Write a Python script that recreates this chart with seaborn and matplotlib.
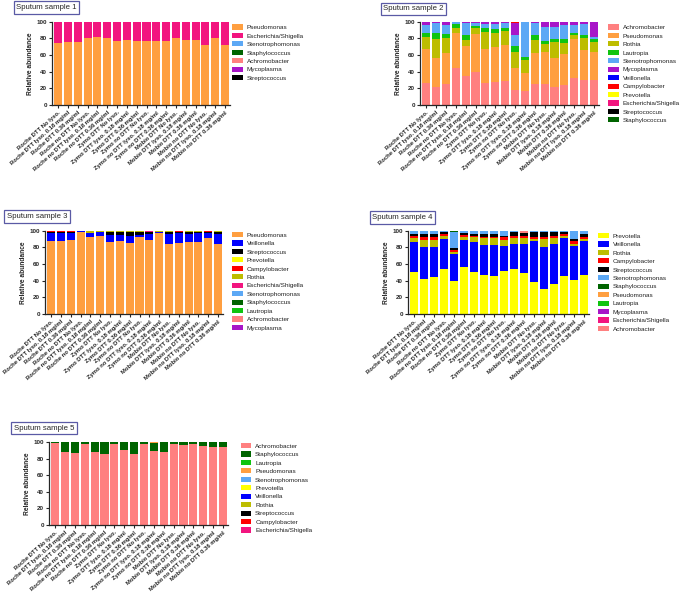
import numpy as np
import matplotlib
matplotlib.use('Agg')
import matplotlib.pyplot as plt
from matplotlib.patches import Patch
import seaborn as sns

sns.set_style('ticks')
plt.rcParams['font.family'] = ['Liberation Sans', 'DejaVu Sans']

# x 라벨 (18 conditions)
conditions = ['Roche DTT No lyso.', 'Roche DTT lyso. 0.18 mg/ml', 'Roche DTT 0.36 mg/ml',
              'Roche no DTT No lyso.', 'Roche no DTT lyso. 0.18 mg/ml', 'Roche no DTT 0.36 mg/ml',
              'Zymo DTT No lyso.', 'Zymo DTT lyso. 0.18 mg/ml', 'Zymo DTT 0.36 mg/ml',
              'Zymo no DTT No lyso.', 'Zymo no DTT lyso. 0.18 mg/ml', 'Zymo no DTT 0.36 mg/ml',
              'Mobio DTT No lyso.', 'Mobio DTT lyso. 0.18 mg/ml', 'Mobio DTT 0.36 mg/ml',
              'Mobio no DTT No lyso.', 'Mobio no DTT lyso. 0.18 mg/ml', 'Mobio no DTT 0.36 mg/ml']

colors = {
    'Pseudomonas': '#FF9F40',
    'Escherichia/Shigella': '#F2157F',
    'Stenotrophomonas': '#5CA8F5',
    'Staphylococcus': '#006400',
    'Achromobacter': '#FF8080',
    'Mycoplasma': '#A815C8',
    'Streptococcus': '#000000',
    'Rothia': '#BDBD00',
    'Lautropia': '#10C410',
    'Veillonella': '#0000FF',
    'Campylobacter': '#FF0000',
    'Prevotella': '#FFFF00',
}
Z = [0] * 18

# Sputum sample 1
s1_pseudomonas = [75, 76, 76, 81, 82, 80, 77, 78, 77, 77, 77, 77, 80, 78, 78, 72, 81, 72]
s1_escherichia = [25, 24, 24, 19, 18, 20, 23, 22, 23, 23, 23, 23, 20, 22, 22, 28, 19, 28]

# Sputum sample 2
s2_achromobacter = [27, 22, 25, 44, 35, 40, 27, 28, 29, 18, 17, 25, 25, 22, 24, 32, 30, 30]
s2_pseudomonas = [40, 35, 37, 42, 36, 45, 40, 42, 43, 26, 21, 38, 39, 34, 37, 47, 36, 34]
s2_rothia = [15, 22, 19, 7, 7, 7, 21, 17, 17, 20, 16, 15, 9, 20, 14, 5, 14, 12]
s2_lautropia = [5, 8, 4, 4, 6, 3, 4, 4, 3, 7, 4, 6, 4, 3, 4, 3, 4, 3]
s2_stenotrophomonas = [9, 11, 11, 3, 15, 4, 5, 6, 6, 13, 42, 14, 17, 15, 17, 9, 13, 3]
s2_mycoplasma = [4, 2, 4, 0, 1, 1, 3, 3, 2, 14, 0, 2, 6, 6, 4, 4, 3, 18]
s2_campylobacter = [0, 0, 0, 0, 0, 0, 0, 0, 0, 2, 0, 0, 0, 0, 0, 0, 0, 0]

# Sputum sample 3
s3_pseudomonas = [88, 88, 89, 98, 93, 94, 86, 88, 85, 92, 89, 97, 84, 85, 86, 87, 91, 84]
s3_veillonella = [9, 9, 8, 2, 4, 5, 9, 7, 9, 3, 7, 2, 12, 12, 10, 10, 6, 12]
s3_streptococcus = [2, 2, 2, 0, 0, 0, 3, 3, 4, 3, 2, 0, 2, 1, 2, 1, 2, 2]
s3_prevotella = [0, 0, 0, 0, 0, 0, 1, 0, 0, 0, 0, 0, 0, 0, 0, 0, 0, 0]
s3_campylobacter = [1, 1, 1, 0, 0, 0, 0, 1, 0, 1, 0, 0, 1, 2, 1, 1, 1, 1]
s3_rothia = [0, 0, 0, 0, 3, 1, 1, 1, 2, 1, 0, 1, 1, 0, 1, 1, 0, 1]
s3_escherichia = [0, 0, 0, 0, 0, 0, 0, 0, 0, 0, 2, 0, 0, 0, 0, 0, 0, 0]

# Sputum sample 4
s4_prevotella = [51, 42, 45, 54, 40, 57, 51, 47, 46, 52, 54, 49, 39, 30, 36, 46, 41, 47]
s4_veillonella = [36, 38, 36, 36, 32, 32, 36, 36, 37, 30, 30, 35, 49, 51, 48, 45, 41, 41]
s4_rothia = [4, 9, 8, 4, 3, 3, 5, 8, 8, 7, 7, 7, 2, 9, 7, 3, 2, 2]
s4_campylobacter = [3, 3, 3, 2, 2, 3, 2, 2, 2, 3, 3, 3, 2, 3, 3, 2, 4, 3]
s4_streptococcus = [2, 4, 4, 3, 2, 2, 2, 3, 3, 2, 4, 3, 6, 5, 4, 2, 2, 3]
s4_stenotrophomonas = [4, 4, 4, 1, 19, 3, 4, 4, 4, 6, 2, 0, 2, 2, 2, 2, 10, 4]
s4_staphylococcus = [0, 0, 0, 0, 2, 0, 0, 0, 0, 0, 0, 0, 0, 0, 0, 0, 0, 0]
s4_achromobacter = [0, 0, 0, 0, 0, 0, 0, 0, 0, 0, 0, 3, 0, 0, 0, 0, 0, 0]

# Sputum sample 5
s5_achromobacter = [99, 88, 87, 98, 88, 85, 97, 90, 85, 97, 89, 88, 97, 96, 98, 95, 94, 94]
s5_staphylococcus = [1, 12, 13, 2, 12, 15, 3, 10, 15, 3, 10, 12, 3, 4, 2, 5, 6, 6]
s5_pseudomonas = [0, 0, 0, 0, 0, 0, 0, 0, 0, 0, 1, 0, 0, 0, 0, 0, 0, 0]

panels = [
    ('Sputum sample 1',
     [('Pseudomonas', s1_pseudomonas), ('Escherichia/Shigella', s1_escherichia),
      ('Stenotrophomonas', Z), ('Staphylococcus', Z), ('Achromobacter', Z),
      ('Mycoplasma', Z), ('Streptococcus', Z)],
     (52, 21.7, 230, 105), (232, 24.5), (46.5, 7.5)),
    ('Sputum sample 2',
     [('Achromobacter', s2_achromobacter), ('Pseudomonas', s2_pseudomonas), ('Rothia', s2_rothia),
      ('Lautropia', s2_lautropia), ('Stenotrophomonas', s2_stenotrophomonas),
      ('Mycoplasma', s2_mycoplasma), ('Veillonella', Z), ('Campylobacter', s2_campylobacter),
      ('Prevotella', Z), ('Escherichia/Shigella', Z), ('Streptococcus', Z), ('Staphylococcus', Z)],
     (420, 21.7, 599, 105), (608, 24.5), (413.5, 9)),
    ('Sputum sample 3',
     [('Pseudomonas', s3_pseudomonas), ('Veillonella', s3_veillonella),
      ('Streptococcus', s3_streptococcus), ('Prevotella', s3_prevotella),
      ('Campylobacter', s3_campylobacter), ('Rothia', s3_rothia),
      ('Escherichia/Shigella', s3_escherichia), ('Stenotrophomonas', Z), ('Staphylococcus', Z),
      ('Lautropia', Z), ('Achromobacter', Z), ('Mycoplasma', Z)],
     (45, 230.7, 223, 314), (232, 232), (37, 216.5)),
    ('Sputum sample 4',
     [('Prevotella', s4_prevotella), ('Veillonella', s4_veillonella), ('Rothia', s4_rothia),
      ('Campylobacter', s4_campylobacter), ('Streptococcus', s4_streptococcus),
      ('Stenotrophomonas', s4_stenotrophomonas), ('Staphylococcus', s4_staphylococcus),
      ('Pseudomonas', Z), ('Lautropia', Z), ('Mycoplasma', Z), ('Escherichia/Shigella', Z),
      ('Achromobacter', s4_achromobacter)],
     (408, 230.7, 589, 314), (598, 233), (402.5, 217.5)),
    ('Sputum sample 5',
     [('Achromobacter', s5_achromobacter), ('Staphylococcus', s5_staphylococcus),
      ('Lautropia', Z), ('Pseudomonas', s5_pseudomonas), ('Stenotrophomonas', Z),
      ('Prevotella', Z), ('Veillonella', Z), ('Rothia', Z), ('Streptococcus', Z),
      ('Campylobacter', Z), ('Escherichia/Shigella', Z)],
     (49, 442, 228, 525), (240.5, 443), (44, 428)),
]

W, H = 685, 600
fig = plt.figure(figsize=(W / 100, H / 100), dpi=100)
fig.patch.set_facecolor('white')

for title, layers, (x0, y0, x1, y1), (lx, ly), (tx, ty) in panels:
    ax = fig.add_axes([x0 / W, 1 - y1 / H, (x1 - x0) / W, (y1 - y0) / H])
    vals = np.array([v for _, v in layers], dtype=float)
    cum = vals.cumsum(axis=0)
    # 위에서부터 누적 막대를 덮어 그리기
    for i in range(len(layers) - 1, -1, -1):
        name = layers[i][0]
        sns.barplot(x=conditions, y=cum[i], order=conditions, color=colors[name],
                    saturation=1, width=0.82, errorbar=None, linewidth=0, ax=ax)
    ax.set_xlim(-0.62, 17.5)
    ax.set_ylim(0, 100)
    ax.set_yticks([0, 20, 40, 60, 80, 100])
    ax.set_xlabel('')
    ax.set_ylabel('Relative abundance', fontsize=4.8, fontweight='bold', labelpad=2)
    sns.despine(ax=ax)
    for s in ['left', 'bottom']:
        ax.spines[s].set_linewidth(0.9)
    ax.tick_params(axis='both', length=2.5, width=0.8, pad=1.2)
    ax.tick_params(axis='y', labelsize=4.5)
    ax.set_xticks(range(18))
    ax.set_xticklabels(conditions, rotation=42, ha='right', rotation_mode='anchor',
                       fontsize=4.2, fontweight='bold')
    for lab in ax.get_yticklabels():
        lab.set_fontweight('bold')

    handles = [Patch(facecolor=colors[n], edgecolor='none', label=n) for n, _ in layers]
    fig.legend(handles=handles, loc='upper left', bbox_to_anchor=(lx / W, 1 - ly / H),
               frameon=False, fontsize=4.6, borderpad=0, borderaxespad=0,
               handlelength=1.7, handleheight=0.85, handletextpad=0.6, labelspacing=0.42,
               labelcolor='#222222')

    fig.text(tx / W, 1 - ty / H, title, fontsize=5.6, ha='center', va='center',
             bbox=dict(boxstyle='square,pad=0.35', facecolor='white',
                       edgecolor='#5A5AA5', linewidth=0.9))

fig.savefig('out.png', dpi=100)
